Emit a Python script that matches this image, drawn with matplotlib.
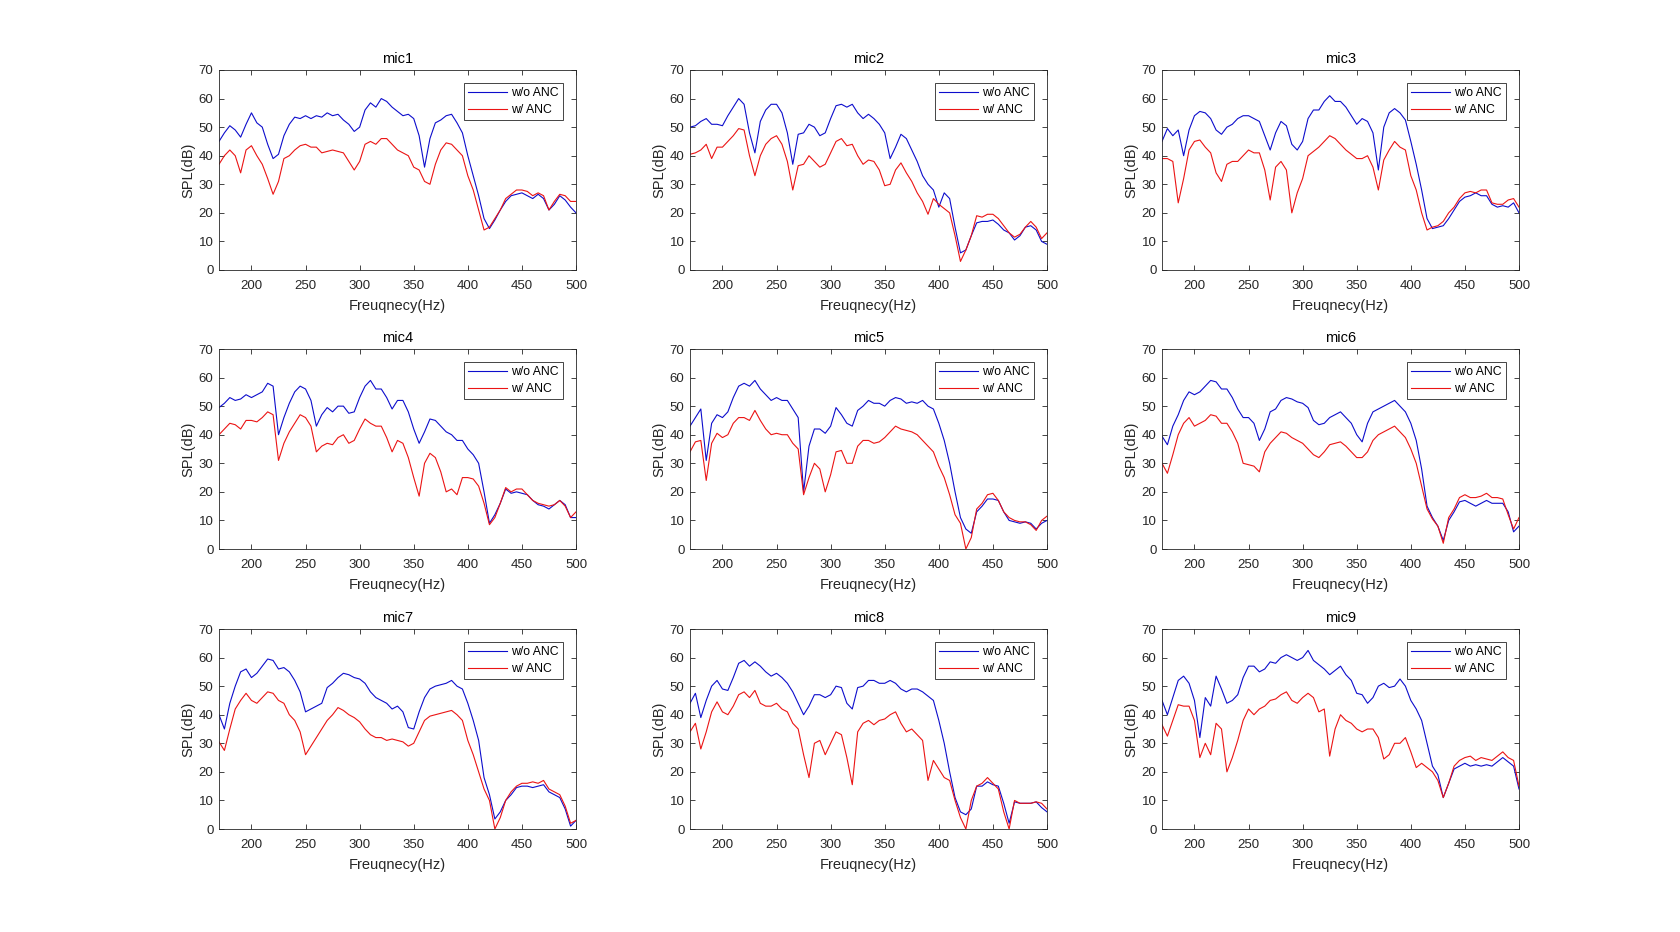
import numpy as np
import matplotlib
matplotlib.use("Agg")
import matplotlib.pyplot as plt

plt.rcParams["font.family"] = ["Liberation Sans", "DejaVu Sans"]

# frequency grid (Hz), 5 Hz steps from 170 to 500
freq = np.arange(170, 501, 5)

# SPL in dB; "off" = w/o ANC, "on" = w/ ANC
mic1_off = [45, 48, 50.5, 49, 46.5, 51, 55, 51.5, 50, 44,
            39, 40.5, 47, 51, 53.5, 53, 54, 53, 54, 53.5,
            55, 54, 54.5, 52.5, 51, 48.5, 50, 56, 58.5, 57,
            60, 59, 57, 55.5, 54, 54.5, 53, 47, 36, 46,
            51.5, 52.5, 54, 54.5, 51.5, 48, 40, 33, 26, 18,
            14.5, 17.5, 21, 24, 26, 26.5, 27, 26, 25, 26.5,
            25, 21, 23, 26, 24.5, 22, 20]
mic1_on = [37, 40, 42, 40, 34, 42, 43.5, 40, 37, 32,
           26.5, 31, 39, 40, 42, 43.5, 44, 43, 43, 41,
           41.5, 42, 41.5, 41, 38, 35, 38, 44, 45, 44,
           46, 46, 44, 42, 41, 40, 36, 35, 31, 30,
           37, 42, 44.5, 44, 42, 40, 33, 28, 21, 14,
           15, 18, 21, 25, 26.5, 28, 28, 27.5, 26, 27,
           26, 21, 24, 26.5, 26, 24, 24]

mic2_off = [50, 50.5, 52, 53, 51, 51, 50.5, 54, 57, 60,
            58, 48, 41, 52, 56, 58, 58, 55, 48, 37,
            47.5, 48, 51, 50, 47, 48, 53, 57.5, 58, 57,
            58, 55, 53, 54.5, 53, 51, 48, 39, 43, 47.5,
            46, 42, 38, 33, 30, 28, 22, 27, 25, 15,
            6, 7, 12, 16.5, 17, 17, 17.5, 16, 14, 13,
            10.5, 12, 15, 15.5, 14, 10, 9]
mic2_on = [40.5, 41, 42, 44, 39, 43, 43, 45, 47, 49.5,
           49, 40, 33, 40, 44, 46, 47, 44, 38, 28,
           36.5, 37, 40, 38, 36, 37, 41, 45, 46, 43.5,
           44, 40, 37, 38.5, 38, 35, 29.5, 30, 35, 37.5,
           34, 31, 27, 24, 19.5, 25, 23, 21.5, 20, 12,
           3, 7, 12, 19, 18.5, 19.5, 19.5, 18, 15.5, 13,
           11.5, 12.5, 15, 17, 15, 11, 13]

mic3_off = [45, 49.5, 47, 49, 40, 49, 54, 55.5, 55, 53,
            49, 47.5, 50, 51, 53, 54, 54, 53, 52, 47,
            42, 48, 52, 50.5, 44, 42, 45, 53, 56, 56,
            59, 61, 59, 59, 57, 54, 51, 53, 52, 48,
            35, 50, 55, 56.5, 55, 52.5, 45, 37, 28, 18,
            14.5, 15, 15.5, 18, 21, 24, 25.5, 26, 27, 26,
            26, 23, 22, 22.5, 22, 23.5, 20]
mic3_on = [39, 39, 38, 23.5, 32, 42, 45, 45.5, 43, 41,
           34, 31, 37, 38, 38, 40, 42, 41, 41, 35,
           24.5, 36, 38, 35, 20, 27, 32, 40, 41.5, 43,
           45, 47, 46, 44, 42, 40.5, 39, 39, 40, 36,
           28, 38.5, 42, 45, 43, 42, 33, 28, 20, 14,
           15, 15.5, 17, 20, 22, 25, 27, 27.5, 27, 28,
           28, 23.5, 23, 23, 24.5, 25, 22]

mic4_off = [49.5, 51, 53, 52, 52.5, 54, 53, 54, 55, 58,
            57, 40, 46, 51, 55, 57, 56, 52, 43, 47,
            49.5, 48, 50, 50, 47.5, 48, 53, 57, 59, 56,
            56, 53, 49, 52, 52, 48, 42, 37, 41, 45.5,
            45, 43, 41, 40, 38, 38, 35, 33, 30, 20,
            9, 12, 16, 21, 19.5, 20, 19.5, 19, 17, 15.5,
            15, 14, 15.5, 17, 15.5, 11, 11]
mic4_on = [40, 42, 44, 43.5, 42, 45, 45, 44.5, 46, 48,
           47, 31, 37, 41, 44, 47, 46, 43, 34, 36,
           37, 36.5, 39, 40, 37, 38, 42, 45.5, 44, 43,
           43, 39, 34, 38, 37, 32, 25, 18.5, 30, 33.5,
           32, 27, 20, 21, 19, 25, 25, 24.5, 22, 16,
           8.5, 11, 16, 21.5, 20, 21, 21, 19, 17, 16,
           15.5, 15, 15.5, 17, 15, 11, 13]

mic5_off = [43, 46, 49, 31, 44, 47, 46, 48, 53, 57,
            58, 57, 59, 56, 54, 52, 53, 52, 52, 49,
            46, 20, 36, 42, 42, 40.5, 43, 49.5, 47, 44,
            43, 48.5, 50, 52, 51, 51, 50, 52, 53, 52.5,
            51, 51.5, 51, 52, 50, 49, 44, 38, 30, 20,
            11, 7, 5.5, 13, 15, 17.5, 17.5, 17, 13, 10,
            9.5, 9, 9.5, 9, 7, 9, 10]
mic5_on = [34, 37.5, 38, 24, 37, 40.5, 39, 40, 44, 46,
           46, 45, 48.5, 45, 42, 40, 40.5, 40, 40, 37,
           35, 19, 25, 30, 28, 20, 26, 34, 34.5, 30,
           30, 36, 38, 38, 37, 37.5, 39, 41, 43, 42,
           41.5, 41, 40, 38, 36, 34, 29, 25, 19, 12,
           9, 0, 4, 14, 16, 19, 19.5, 17, 13, 11,
           10, 9.5, 9.5, 8.5, 6.5, 10, 11.5]

mic6_off = [39.5, 36.5, 43, 47, 52, 55, 54, 55, 57, 59,
            58.5, 56, 56, 53, 49, 46, 46, 44, 38, 42,
            48, 49, 52, 53, 52.5, 51.5, 51, 49.5, 45, 43.5,
            44, 46, 47, 48, 46, 44, 40, 37.5, 44, 48,
            49, 50, 51, 52, 50, 48, 44, 38, 28, 15,
            11, 8, 3, 10, 13, 16.5, 17, 16, 15, 16,
            17, 16, 16, 16, 13, 6, 8]
mic6_on = [30, 26.5, 33, 40, 44, 46, 43, 44, 45, 47,
           46.5, 44, 44, 41, 37, 30, 29.5, 29, 27, 34,
           37, 39, 41, 40.5, 39, 38, 37, 35, 33, 32,
           34, 36.5, 37, 37.5, 36, 34, 32, 32, 34, 38,
           40, 41, 42, 43, 41, 39, 35, 30, 22, 14,
           10.5, 8, 2, 11, 14, 18, 19, 18, 18, 18.5,
           19.5, 18, 18, 17.5, 12, 7, 11]

mic7_off = [40, 35, 44, 50, 55, 56, 53, 54.5, 57, 59.5,
            59, 56, 56.5, 55, 52, 48, 41, 42, 43, 44,
            49.5, 51, 53, 54.5, 54, 53, 52.5, 51, 48, 46,
            45, 44, 42, 43, 41, 35.5, 35, 41, 46, 49,
            50, 50.5, 51, 52, 50, 49, 44, 38, 31, 18,
            12, 3.5, 6, 10, 12, 14.5, 15, 15, 14.5, 15,
            15.5, 13, 12, 11, 7, 1, 3]
mic7_on = [30.5, 27.5, 35, 42, 45, 47.5, 45, 44, 46, 48,
           47.5, 45, 44, 40, 38, 34, 26, 29, 32, 35,
           38, 40, 42.5, 41.5, 40, 39, 37.5, 35, 33, 32,
           32, 31, 31.5, 31, 30.5, 29, 30, 34, 38, 39.5,
           40, 40.5, 41, 41.5, 40, 38, 31, 26, 20, 14,
           10, 0, 4, 10, 13, 15, 16, 16, 16.5, 16,
           17, 14, 13, 12, 8, 2, 3]

mic8_off = [44, 47.5, 39, 45, 50, 52, 49, 48.5, 53, 58,
            59, 57, 58.5, 57, 55, 53.5, 54.5, 53, 51, 48,
            44, 40, 43, 47, 47, 46, 47, 50, 49.5, 44,
            42, 49.5, 50, 52, 52, 51, 51, 52, 51, 49,
            48, 49, 49, 48, 46.5, 45, 38, 30, 20, 11,
            6, 5, 7, 15, 15, 16.5, 15.5, 15, 9, 2,
            9.5, 9, 9, 9, 9.5, 7.5, 6]
mic8_on = [34, 37, 28, 34, 41, 44.5, 41, 40, 43, 47,
           48, 46, 48.5, 44, 43, 43, 44, 42, 41, 37,
           35, 26, 18, 30, 31, 26, 30, 34, 33, 25,
           15.5, 34, 37, 38, 36.5, 38, 38.5, 40, 41, 37,
           34, 35, 33, 31, 17, 24, 21, 18, 17, 10,
           4, 0, 10, 15, 16, 18, 16, 14, 6, 0,
           10, 9, 9, 9, 9.5, 9, 7]

mic9_off = [45, 40, 46, 52, 53.5, 51, 45, 32, 46, 43,
            53.5, 49, 44, 45, 47, 53, 57, 57, 55, 56,
            58.5, 58, 60, 61, 60, 59, 60, 62.5, 59, 57.5,
            56, 54, 55.5, 57, 54, 52, 47.5, 47, 44, 46,
            50, 51, 49.5, 50, 52.5, 50, 45, 42, 38, 30,
            22, 19, 11, 16, 21, 22, 23, 22, 22.5, 22,
            22.5, 22, 23.5, 25, 23.5, 22, 14]
mic9_on = [36.5, 32.5, 38, 43.5, 43, 43, 38, 25, 30, 26,
           37, 35, 20, 25, 31, 38, 42, 40, 42, 43,
           45, 45.5, 47, 48, 45, 44, 46, 47.5, 46, 41,
           42, 25.5, 35, 40, 38, 37, 35, 34, 35, 35,
           32, 24.5, 26, 30, 30, 32, 27, 21.5, 23, 21.5,
           20, 17, 11, 16, 22, 24, 25, 25.5, 24, 25,
           24.5, 24, 25.5, 27, 25, 24, 15]

titles = ["mic1", "mic2", "mic3", "mic4", "mic5", "mic6", "mic7", "mic8", "mic9"]
off_data = [mic1_off, mic2_off, mic3_off, mic4_off, mic5_off,
            mic6_off, mic7_off, mic8_off, mic9_off]
on_data = [mic1_on, mic2_on, mic3_on, mic4_on, mic5_on,
           mic6_on, mic7_on, mic8_on, mic9_on]

fig = plt.figure(figsize=(16.8, 9.32), dpi=100)

W, H = 1680, 932
col_left = [219, 690, 1162]
row_top = [70, 349, 629]
ax_w, ax_h = 357, 200
dark = (0.15, 0.15, 0.15)

for i in range(9):
    r, c = divmod(i, 3)
    ax = fig.add_axes([col_left[c] / W, 1 - (row_top[r] + ax_h) / H,
                       ax_w / W, ax_h / H])

    ax.plot(freq, off_data[i], color=(0.05, 0.05, 0.8), linewidth=0.8, label="w/o ANC")
    ax.plot(freq, on_data[i], color=(0.92, 0.08, 0.08), linewidth=0.8, label="w/ ANC")

    ax.set_xlim(170, 500)
    ax.set_ylim(0, 70)
    ax.set_xticks(np.arange(200, 501, 50))
    ax.set_yticks(np.arange(0, 71, 10))
    ax.tick_params(direction="in", length=3.5, width=0.6, top=True, right=True,
                   labelsize=9.5, colors=dark)
    ax.tick_params(axis="x", pad=7)
    ax.tick_params(axis="y", pad=4)
    for s in ax.spines.values():
        s.set_color(dark)
        s.set_linewidth(0.6)

    ax.set_title(titles[i], fontsize=10.5, color="black", pad=5)
    ax.set_xlabel("Freuqnecy(Hz)", fontsize=10.5, color=dark, labelpad=5)
    ax.set_ylabel("SPL(dB)", fontsize=10.5, color=dark, labelpad=2)

    leg = ax.legend(loc="upper right", bbox_to_anchor=(1 - 13 / ax_w, 1 - 13 / ax_h),
                    borderaxespad=0, fontsize=8.8, frameon=True, fancybox=False,
                    framealpha=1, edgecolor=dark, handlelength=3.2,
                    handletextpad=0.3, labelspacing=0.4, borderpad=0.35)
    leg.get_frame().set_linewidth(0.6)

fig.savefig("out.png", dpi=100, facecolor="white")
